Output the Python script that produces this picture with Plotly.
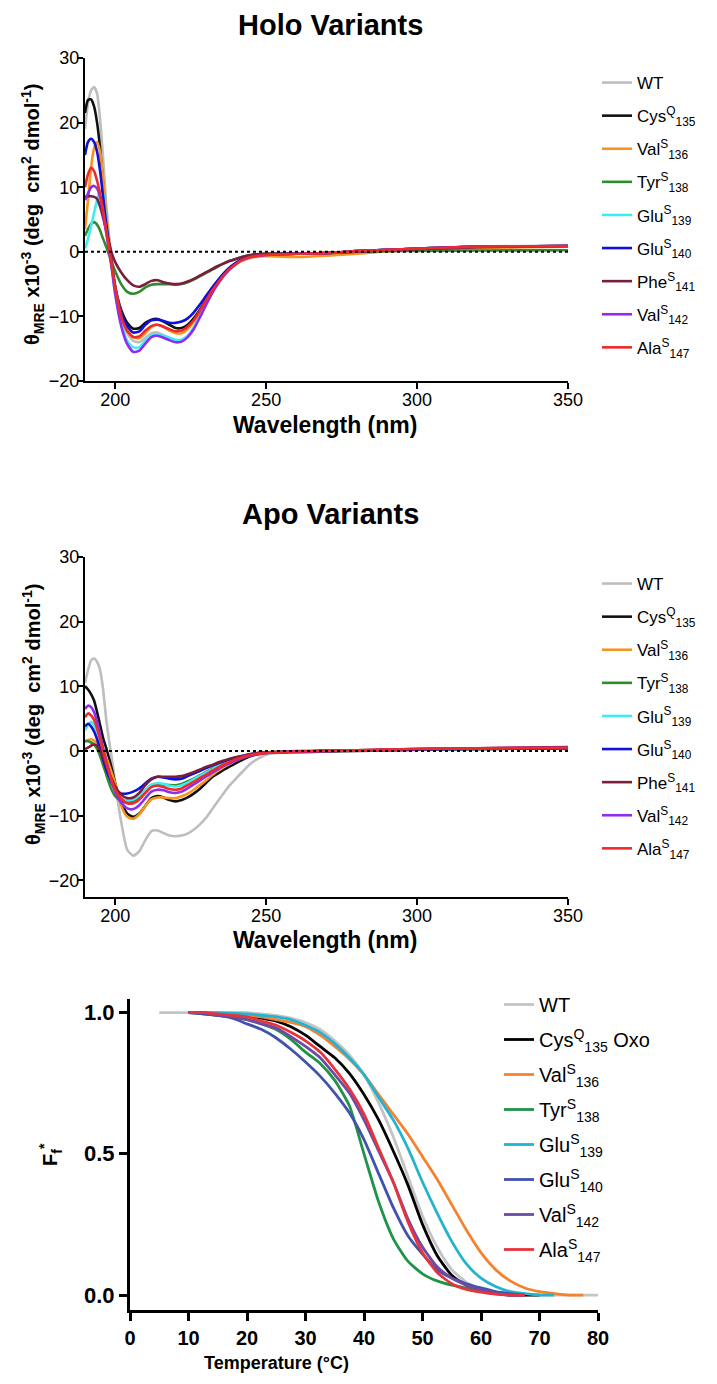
import plotly.graph_objects as go

# ---------------- data ----------------
wavelength = [190, 191, 192, 193, 194, 195, 196, 197, 198, 199, 200,
              202, 204, 206, 208, 210, 212, 214, 216, 218, 220, 222, 224, 226, 228, 230,
              232, 234, 236, 238, 240, 242,
              245, 250, 260, 270, 280, 290, 300, 320, 350]

cd_names = ["WT", "Cys<sup>Q</sup><sub>135</sub>", "Val<sup>S</sup><sub>136</sub>",
            "Tyr<sup>S</sup><sub>138</sub>", "Glu<sup>S</sup><sub>139</sub>",
            "Glu<sup>S</sup><sub>140</sub>", "Phe<sup>S</sup><sub>141</sub>",
            "Val<sup>S</sup><sub>142</sub>", "Ala<sup>S</sup><sub>147</sub>"]
cd_colors = ["#BEBEBE", "#111111", "#F7941D", "#2E8B2E", "#3EEDF2",
             "#1010D8", "#7A1E3C", "#8F2CF0", "#EE2A2A"]

holo_wt = [19, 23, 25, 25.5, 24.5, 20.5, 14.5, 7.5, 2.5, -1.5, -5,
           -10, -12.6, -13.8, -14, -13.3, -12.6, -12.5, -12.9, -13.4, -13.8, -13.8, -13.1, -11.7, -9.8, -7.8,
           -6, -4.6, -3.4, -2.5, -1.8, -1.2,
           -0.7, -0.4, -0.3, -0.2, 0.1, 0.3, 0.5, 0.8, 1.0]
holo_cys135 = [21.5, 23.5, 23.6, 22.5, 20, 16, 10.5, 5, 0.8, -2.5, -5.5,
               -9, -11, -11.9, -11.8, -11, -10.5, -10.4, -10.8, -11.3, -11.8, -11.8, -11.3, -10.3, -9, -7.5,
               -6, -4.7, -3.5, -2.5, -1.8, -1.2,
               -0.7, -0.4, -0.3, -0.2, 0.1, 0.3, 0.5, 0.8, 0.9]
holo_val136 = [3.5, 8, 13, 16, 17, 15.5, 11.5, 6, 1.5, -2, -5.5,
               -9.5, -12, -13.2, -13.4, -12.6, -11.6, -11.3, -11.6, -12.2, -12.6, -12.6, -12, -10.8, -9.3, -7.7,
               -6.1, -4.8, -3.6, -2.6, -1.9, -1.4,
               -0.9, -0.7, -0.8, -0.6, -0.3, 0.1, 0.3, 0.6, 0.8]
holo_tyr138 = [2.5, 3.5, 4.3, 4.6, 4.2, 3.3, 2, 0.8, -0.5, -1.8, -3,
               -5, -6.2, -6.5, -6.2, -5.5, -5.1, -5, -5, -5, -5.1, -5, -4.7, -4.3, -3.8, -3.3,
               -2.8, -2.3, -1.8, -1.4, -1.1, -0.8,
               -0.5, -0.3, -0.3, -0.2, 0, 0.1, 0.15, 0.2, 0.25]
holo_glu139 = [0.5, 2, 4, 6, 8, 9.5, 9, 5, 0.5, -3, -6.5,
               -11, -13.8, -14.8, -14.8, -13.8, -13, -12.8, -13, -13.3, -13.6, -13.6, -13, -11.8, -10, -8.2,
               -6.4, -4.9, -3.6, -2.6, -1.9, -1.3,
               -0.8, -0.5, -0.3, -0.2, 0.1, 0.3, 0.5, 0.8, 0.9]
holo_glu140 = [15, 17, 17.5, 17, 15.5, 12.5, 8.5, 4.5, 1, -2.5, -5.5,
               -9.5, -11.5, -12.5, -12.3, -11.3, -10.6, -10.5, -10.7, -11, -11, -10.8, -10.3, -9.4, -8.2, -6.9,
               -5.6, -4.4, -3.3, -2.4, -1.7, -1.2,
               -0.7, -0.4, -0.3, -0.2, 0.1, 0.3, 0.5, 0.8, 0.9]
holo_phe141 = [8.5, 8.6, 8.6, 8.5, 8.2, 7, 5.3, 3.3, 1.3, -0.4, -1.6,
               -3.2, -4.4, -5.2, -5.4, -5, -4.5, -4.4, -4.7, -4.9, -5, -4.9, -4.6, -4.2, -3.7, -3.2,
               -2.7, -2.2, -1.8, -1.4, -1.1, -0.8,
               -0.5, -0.3, -0.3, -0.2, 0, 0.2, 0.4, 0.7, 0.9]
holo_val142 = [8, 9, 10, 10.2, 9.8, 8.5, 6, 3, 0, -3, -6.5,
               -11.5, -14.3, -15.5, -15.3, -14.2, -13.2, -13, -13.3, -13.7, -14, -13.9, -13.2, -12, -10.2, -8.3,
               -6.5, -5, -3.7, -2.7, -1.9, -1.3,
               -0.8, -0.5, -0.3, -0.2, 0.1, 0.3, 0.5, 0.8, 0.9]
holo_ala147 = [10, 12, 13, 12.5, 11, 9, 6.5, 3.5, 0.5, -2.5, -5.5,
               -10, -12.3, -13.2, -13.1, -12.2, -11.5, -11.3, -11.6, -12, -12.3, -12.2, -11.6, -10.6, -9.2, -7.6,
               -6.1, -4.8, -3.6, -2.6, -1.9, -1.3,
               -0.8, -0.5, -0.3, -0.2, 0.1, 0.3, 0.5, 0.8, 0.9]

apo_wt = [10.5, 12.5, 14, 14.3, 13.8, 12.5, 9.5, 5, 1.5, -1.5, -5,
          -11, -15.3, -16.2, -15.5, -13.8, -12.4, -12.3, -12.7, -13.1, -13.2, -13.1, -12.8, -12.2, -11.4, -10.4,
          -9.1, -7.8, -6.5, -5.3, -4.3, -3.3,
          -1.9, -0.6, -0.1, 0, 0.1, 0.2, 0.3, 0.4, 0.5]
apo_cys135 = [10, 9.5, 8.8, 7.8, 6, 4, 2, 0.5, -1.2, -3, -5,
              -8, -9.7, -10.2, -9.7, -8.5, -7.3, -7, -7.2, -7.6, -7.8, -7.6, -7.2, -6.6, -5.9, -5,
              -4.1, -3.5, -2.9, -2.4, -1.9, -1.4,
              -0.8, -0.3, -0.2, -0.1, 0, 0.1, 0.2, 0.3, 0.4]
apo_val136 = [1.5, 1.7, 1.8, 1.6, 1.2, 0.6, 0, -1, -2.2, -3.6, -5,
              -8.5, -10.2, -10.5, -9.8, -8.5, -7.5, -7.2, -7.2, -7.3, -7.3, -7, -6.6, -6, -5.3, -4.6,
              -3.8, -3.1, -2.5, -2, -1.5, -1.1,
              -0.6, -0.2, 0, 0.1, 0.1, 0.2, 0.3, 0.3, 0.4]
apo_tyr138 = [1.5, 1.5, 1.3, 1, 0.3, -0.8, -2.2, -3.6, -5, -6.2, -7,
              -7.8, -8, -7.8, -7.2, -6.3, -5.5, -5.2, -5.2, -5.3, -5.3, -5.1, -4.7, -4.3, -3.8, -3.3,
              -2.8, -2.3, -1.9, -1.5, -1.2, -0.9,
              -0.5, -0.2, -0.1, 0, 0.1, 0.1, 0.2, 0.3, 0.4]
apo_glu139 = [3.2, 4, 4.5, 4, 2.8, 1.2, -0.5, -2.2, -3.8, -5.2, -6.3,
              -7.3, -7.6, -7.5, -6.9, -6, -5.2, -5, -5.1, -5.4, -5.5, -5.3, -4.9, -4.4, -3.9, -3.4,
              -2.9, -2.4, -2, -1.6, -1.2, -0.9,
              -0.6, -0.3, -0.1, 0, 0.1, 0.1, 0.2, 0.3, 0.4]
apo_glu140 = [3.8, 4.2, 3.8, 3, 1.8, 0.3, -1.3, -2.8, -4, -5.1, -5.9,
              -6.6, -6.6, -6.3, -5.8, -5, -4.3, -4, -4.1, -4.3, -4.4, -4.3, -3.9, -3.5, -3.1, -2.7,
              -2.3, -1.9, -1.6, -1.3, -1, -0.8,
              -0.5, -0.2, -0.1, 0, 0.1, 0.1, 0.2, 0.3, 0.4]
apo_phe141 = [0.3, 0.5, 0.8, 1, 0.8, 0, -1, -2.2, -3.4, -4.5, -5.5,
              -6.8, -7.3, -7.2, -6.5, -5.3, -4.4, -4, -4, -4, -4, -3.9, -3.6, -3.3, -2.9, -2.5,
              -2.2, -1.8, -1.5, -1.2, -1, -0.8,
              -0.5, -0.2, -0.1, 0, 0.1, 0.2, 0.3, 0.4, 0.6]
apo_val142 = [6.5, 7, 6.8, 6, 4.5, 2.5, 0.5, -1.5, -3.2, -5, -6.3,
              -8, -8.9, -9, -8.4, -7.3, -6.3, -6, -6.1, -6.4, -6.5, -6.3, -5.8, -5.2, -4.6, -4,
              -3.4, -2.8, -2.3, -1.9, -1.5, -1.1,
              -0.7, -0.3, -0.1, 0, 0.1, 0.2, 0.3, 0.4, 0.5]
apo_ala147 = [5.2, 5.8, 5.5, 4.8, 3.5, 1.8, 0, -1.8, -3.4, -4.8, -6,
              -7.4, -8.1, -8.1, -7.5, -6.5, -5.6, -5.4, -5.6, -5.9, -6, -5.8, -5.3, -4.8, -4.2, -3.7,
              -3.1, -2.6, -2.1, -1.7, -1.3, -1,
              -0.6, -0.3, -0.1, 0, 0.1, 0.2, 0.3, 0.4, 0.5]

holo_series = [holo_wt, holo_cys135, holo_val136, holo_tyr138, holo_glu139,
               holo_glu140, holo_phe141, holo_val142, holo_ala147]
apo_series = [apo_wt, apo_cys135, apo_val136, apo_tyr138, apo_glu139,
              apo_glu140, apo_phe141, apo_val142, apo_ala147]

temperature = [5, 7.5, 10, 12.5, 15, 17.5, 20, 22.5, 25, 27.5, 30, 32.5, 35, 37.5, 40, 42.5,
               45, 47.5, 50, 52.5, 55, 57.5, 60, 62.5, 65, 67.5, 70, 72.5, 75, 77.5, 80]
N = None
melt_names = ["WT", "Cys<sup>Q</sup><sub>135</sub> Oxo", "Val<sup>S</sup><sub>136</sub>",
              "Tyr<sup>S</sup><sub>138</sub>", "Glu<sup>S</sup><sub>139</sub>",
              "Glu<sup>S</sup><sub>140</sub>", "Val<sup>S</sup><sub>142</sub>",
              "Ala<sup>S</sup><sub>147</sub>"]
melt_colors = ["#C4C4C4", "#000000", "#F5822F", "#1E9447", "#22B4CF",
               "#4152AE", "#6D4BA3", "#E8333C"]
melt_wt = [1, 1, 1, 1, 1, 1, 1, 0.995, 0.99, 0.98, 0.965, 0.94, 0.9, 0.85, 0.78, 0.68,
           0.56, 0.42, 0.28, 0.17, 0.09, 0.045, 0.02, 0.008, 0.003, 0, 0, 0, 0, 0, 0]
melt_cys135 = [N, N, 1, 1, 0.995, 0.993, 0.99, 0.98, 0.97, 0.95, 0.92, 0.88, 0.84, 0.785, 0.71, 0.62,
               0.51, 0.39, 0.25, 0.14, 0.07, 0.035, 0.015, 0.005, 0, 0, 0, N, N, N, N]
melt_val136 = [N, N, 1, 1, 0.998, 0.995, 0.99, 0.985, 0.975, 0.965, 0.95, 0.92, 0.88, 0.835, 0.78, 0.71,
               0.64, 0.57, 0.49, 0.41, 0.32, 0.23, 0.15, 0.09, 0.05, 0.025, 0.012, 0.005, 0, 0, N]
melt_tyr138 = [N, N, 1, 0.995, 0.99, 0.985, 0.975, 0.96, 0.94, 0.905, 0.86, 0.82, 0.76, 0.67, 0.5, 0.33,
               0.2, 0.12, 0.075, 0.05, 0.035, 0.025, 0.015, 0.007, 0, 0, N, N, N, N, N]
melt_glu139 = [N, N, 1, 1, 1, 0.998, 0.995, 0.99, 0.985, 0.975, 0.955, 0.93, 0.89, 0.84, 0.78, 0.7,
               0.62, 0.52, 0.4, 0.29, 0.19, 0.11, 0.06, 0.03, 0.012, 0.005, 0, 0, N, N, N]
melt_glu140 = [N, N, 1, 0.995, 0.99, 0.98, 0.96, 0.94, 0.91, 0.87, 0.825, 0.775, 0.715, 0.645, 0.55, 0.43,
               0.31, 0.21, 0.145, 0.09, 0.06, 0.04, 0.025, 0.012, 0.005, 0, N, N, N, N, N]
melt_val142 = [N, N, 1, 1, 0.99, 0.985, 0.975, 0.96, 0.945, 0.915, 0.88, 0.84, 0.78, 0.715, 0.62, 0.51,
               0.4, 0.27, 0.17, 0.1, 0.06, 0.035, 0.018, 0.007, 0, 0, N, N, N, N, N]
melt_ala147 = [N, N, 1, 1, 0.995, 0.99, 0.985, 0.97, 0.955, 0.93, 0.9, 0.86, 0.8, 0.73, 0.64, 0.52,
               0.4, 0.26, 0.15, 0.08, 0.04, 0.02, 0.01, 0.003, 0, 0, N, N, N, N, N]
melt_series = [melt_wt, melt_cys135, melt_val136, melt_tyr138, melt_glu139,
               melt_glu140, melt_val142, melt_ala147]

# ---------------- figure ----------------
W, H = 717, 1384
OFF = 8  # the page body adds an 8px margin; positions below are screen pixels
REG = "Liberation Sans, Arial, sans-serif"


def px_x(p):
    return (p - OFF) / W


def px_y(p):
    return 1 - (p - OFF) / H


fig = go.Figure()

for i, (name, col) in enumerate(zip(cd_names, cd_colors)):
    fig.add_trace(go.Scatter(x=wavelength, y=holo_series[i], name=name, mode="lines",
                             line=dict(color=col, width=2.6, shape="spline", smoothing=0.6),
                             xaxis="x", yaxis="y", legend="legend", legendgroup="h%d" % i))
for i, (name, col) in enumerate(zip(cd_names, cd_colors)):
    fig.add_trace(go.Scatter(x=wavelength, y=apo_series[i], name=name, mode="lines",
                             line=dict(color=col, width=2.6, shape="spline", smoothing=0.6),
                             xaxis="x2", yaxis="y2", legend="legend2", legendgroup="a%d" % i))
for i, (name, col) in enumerate(zip(melt_names, melt_colors)):
    fig.add_trace(go.Scatter(x=temperature, y=melt_series[i], name=name, mode="lines",
                             line=dict(color=col, width=2.8, shape="spline", smoothing=0.6),
                             connectgaps=False,
                             xaxis="x3", yaxis="y3", legend="legend3", legendgroup="m%d" % i))

cd_tickfont = dict(family=REG, size=18, color="black")
cd_x_common = dict(range=[190, 350], tickvals=[200, 250, 300, 350], ticks="outside", ticklen=6,
                   tickwidth=2.4, tickcolor="black", showline=True, linewidth=2.4, linecolor="black",
                   showgrid=False, zeroline=False, tickfont=cd_tickfont, automargin=False,
                   fixedrange=True, ticklabelstandoff=-5)
cd_y_common = dict(tickvals=[-20, -10, 0, 10, 20, 30], ticks="outside", ticklen=6,
                   tickwidth=2.4, tickcolor="black", showline=True, linewidth=2.4, linecolor="black",
                   showgrid=False, zeroline=False, tickfont=cd_tickfont, automargin=False,
                   fixedrange=True, ticklabelstandoff=-6)

xd = [px_x(85), px_x(568)]
leg_font = dict(family=REG, size=17, color="black")
fig.update_layout(
    width=W, height=H, template="none", paper_bgcolor="white", plot_bgcolor="white",
    margin=dict(l=0, r=0, t=0, b=0),
    xaxis=dict(domain=xd, anchor="y", **cd_x_common),
    yaxis=dict(domain=[px_y(381), px_y(58)], anchor="x", range=[-20, 30], **cd_y_common),
    xaxis2=dict(domain=xd, anchor="y2", **cd_x_common),
    yaxis2=dict(domain=[px_y(897), px_y(557)], anchor="x2", range=[-22.6, 30], **cd_y_common),
    xaxis3=dict(domain=[px_x(130), px_x(598)], anchor="y3", range=[0, 80],
                tickvals=[0, 10, 20, 30, 40, 50, 60, 70, 80], ticks="outside", ticklen=8,
                tickwidth=3.2, tickcolor="black", showline=True, linewidth=3.2, linecolor="black",
                showgrid=False, zeroline=False, automargin=False, fixedrange=True,
                tickfont=dict(family=REG, size=20, color="black", weight="bold")),
    yaxis3=dict(domain=[px_y(1310), px_y(999)], anchor="x3", range=[-0.053, 1.048],
                tickvals=[0, 0.5, 1.0], ticktext=["0.0", "0.5", "1.0"], ticks="outside", ticklen=8,
                tickwidth=3.2, tickcolor="black", showline=True, linewidth=3.2, linecolor="black",
                showgrid=False, zeroline=False, automargin=False, fixedrange=True,
                tickfont=dict(family=REG, size=22, color="black", weight="bold")),
    legend=dict(x=px_x(597), y=px_y(65), xanchor="left", yanchor="top", font=leg_font,
                bgcolor="rgba(0,0,0,0)", tracegroupgap=8, itemwidth=30),
    legend2=dict(x=px_x(597), y=px_y(566), xanchor="left", yanchor="top", font=leg_font,
                 bgcolor="rgba(0,0,0,0)", tracegroupgap=8, itemwidth=30),
    legend3=dict(x=px_x(499), y=px_y(985), xanchor="left", yanchor="top",
                 font=dict(family=REG, size=20, color="black"), bgcolor="rgba(0,0,0,0)",
                 tracegroupgap=6, itemwidth=30),
    showlegend=True,
)

# dotted zero reference lines
for yr, xr in (("y", "x"), ("y2", "x2")):
    fig.add_shape(type="line", xref=xr + " domain", yref=yr, x0=0, x1=1, y0=0, y1=0,
                  line=dict(color="black", width=2, dash="dot"), layer="above")

ytitle = "<b>θ<sub>MRE</sub> x10<sup>-3</sup> (deg  cm<sup>2</sup> dmol<sup>-1</sup>)</b>"
ann = [
    dict(text="<b>Holo Variants</b>", x=px_x(330), y=px_y(25), font=dict(family=REG, size=29)),
    dict(text="<b>Apo Variants</b>", x=px_x(330), y=px_y(514), font=dict(family=REG, size=29)),
    dict(text="<b>Wavelength (nm)</b>", x=px_x(325), y=px_y(425), font=dict(family=REG, size=23)),
    dict(text="<b>Wavelength (nm)</b>", x=px_x(325), y=px_y(940), font=dict(family=REG, size=23)),
    dict(text=ytitle, x=px_x(33), y=px_y(215), textangle=-90, font=dict(family=REG, size=20)),
    dict(text=ytitle, x=px_x(33), y=px_y(715), textangle=-90, font=dict(family=REG, size=20)),
    dict(text="<b>Temperature (°C)</b>", x=px_x(276), y=px_y(1363), font=dict(family=REG, size=18)),
    dict(text="<b>F<sub>f</sub><sup>*</sup></b>", x=px_x(50), y=px_y(1155), textangle=-90,
         font=dict(family=REG, size=20)),
]
for a in ann:
    fig.add_annotation(xref="paper", yref="paper", showarrow=False, xanchor="center", yanchor="middle",
                       font_color="black", **a)

fig.write_html("out.html")
